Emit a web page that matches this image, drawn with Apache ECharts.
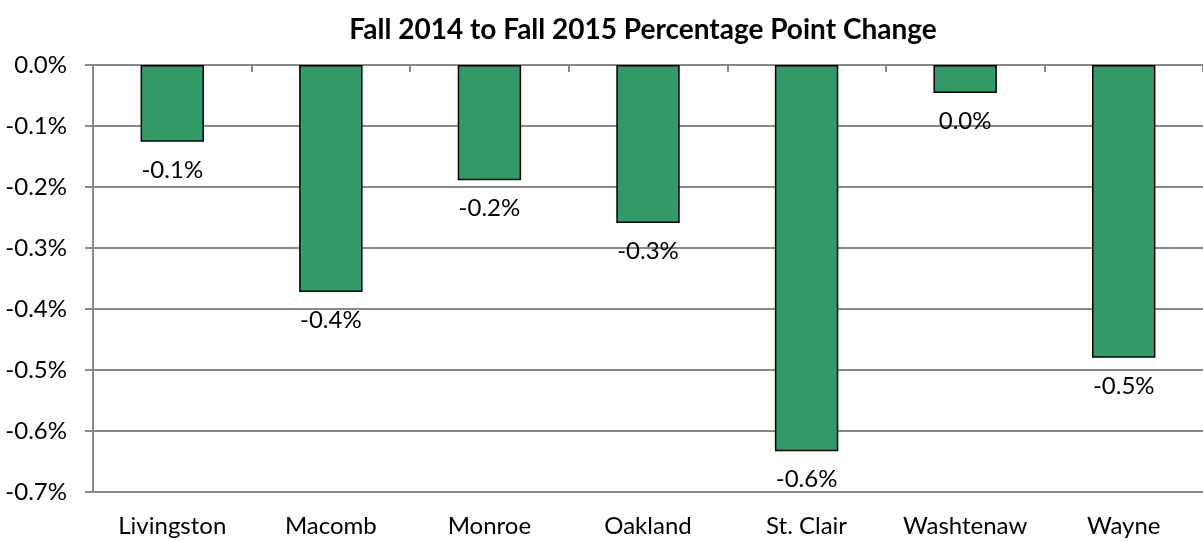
<!DOCTYPE html>
<html>
<head>
<meta charset="utf-8">
<script src="https://cdn.jsdelivr.net/npm/echarts@6/dist/echarts.min.js"></script>
<style>
    html, body { margin: 0; padding: 0; background: #fff; }
    #main { width: 1203px; height: 542px; }
</style>
</head>
<body>
<div id="main"></div>
<script>
// 数据
var counties = ['Livingston', 'Macomb', 'Monroe', 'Oakland', 'St. Clair', 'Washtenaw', 'Wayne']
var changes = [-0.126, -0.372, -0.189, -0.259, -0.633, -0.046, -0.480]
var yTicks = [0, -0.1, -0.2, -0.3, -0.4, -0.5, -0.6, -0.7]

var font = 'Lato, "Open Sans", sans-serif'
var gridColor = '#898989'

function pct(v) {
    var r = Math.round(v * 10) / 10
    return (r === 0 ? 0 : r).toFixed(1) + '%'
}

var myChart = echarts.init(document.getElementById('main'))

var option = {
    animation: false,
    backgroundColor: '#fff',
    title: {
        text: 'Fall 2014 to Fall 2015 Percentage Point Change',
        left: 638,
        top: 11,
        textAlign: 'center',
        textStyle: { fontFamily: font, fontSize: 28, fontWeight: 'bold', color: '#000' }
    },
    grid: { left: 93, right: -10, top: 65, bottom: 50, containLabel: false },
    xAxis: [{
        type: 'category',
        data: counties,
        position: 'top',
        axisLine: { show: true, onZero: false, lineStyle: { color: gridColor, width: 2 } },
        axisTick: { show: true, inside: true, length: 7, lineStyle: { color: gridColor, width: 2 } },
        axisLabel: { show: false }
    }, {
        type: 'category',
        data: counties,
        position: 'bottom',
        axisLine: { show: false, onZero: false },
        axisTick: { show: false },
        axisLabel: { interval: 0, margin: 22, fontFamily: font, fontSize: 24, color: '#000' }
    }],
    yAxis: {
        type: 'value',
        min: -0.7,
        max: 0,
        interval: 0.1,
        axisLine: { show: true, lineStyle: { color: gridColor, width: 2 } },
        axisTick: { show: true, length: 8, lineStyle: { color: gridColor, width: 2 } },
        splitLine: { lineStyle: { color: gridColor, width: 2 } },
        axisLabel: {
            margin: 26,
            fontFamily: font,
            fontSize: 24,
            color: '#000',
            formatter: function(v) { return pct(v) }
        }
    },
    series: [{
        type: 'bar',
        xAxisIndex: 0,
        data: changes,
        barWidth: '40%',
        itemStyle: { color: '#339966', borderColor: '#000', borderWidth: 1.5 },
        label: {
            show: true,
            position: 'bottom',
            distance: 16,
            fontFamily: font,
            fontSize: 24,
            color: '#000',
            formatter: function(p) { return pct(p.value) }
        }
    }]
}

myChart.setOption(option)
</script>
</body>
</html>
